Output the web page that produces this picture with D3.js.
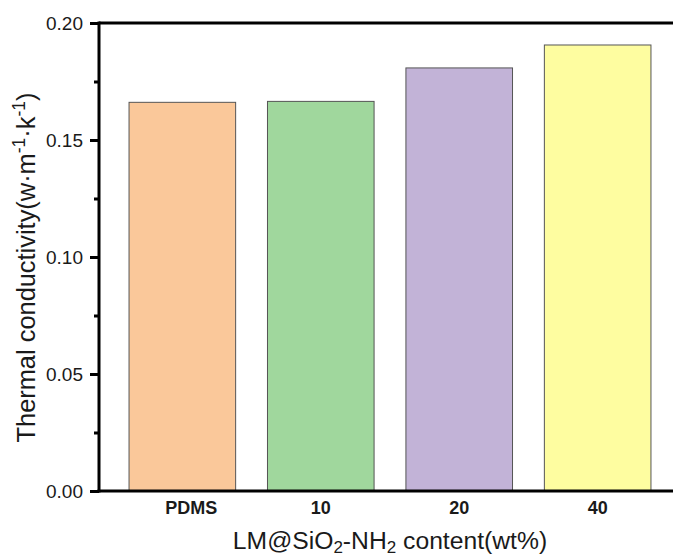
<!DOCTYPE html>
<html>
<head>
<meta charset="utf-8">
<script src="https://cdn.jsdelivr.net/npm/d3@7"></script>
<style>
body{margin:0;background:#fff;}
text{font-family:"Liberation Sans",Arial,sans-serif;}
</style>
</head>
<body>
<svg id="chart" width="673" height="558"></svg>
<script>
const categories = ["PDMS", "10", "20", "40"];
const values = [0.1661, 0.1665, 0.1808, 0.1906];
const colors = ["#FAC89A", "#A0D79D", "#C2B3D7", "#FEFDA0"];
const yTicks = [0.00, 0.05, 0.10, 0.15, 0.20];
const yMinorTicks = [0.025, 0.075, 0.125, 0.175];

const svg = d3.select("#chart");
const mLeft = 99, mRight = 681, mTop = 23, mBottom = 491;

const x = d3.scaleBand().domain(categories).range([mLeft, mRight]).paddingInner(0.23).paddingOuter(0.217);
const y = d3.scaleLinear().domain([0, 0.2]).range([mBottom, mTop]);

// bars
svg.append("g").selectAll("rect").data(categories).join("rect")
  .attr("x", d => x(d))
  .attr("y", (d, i) => y(values[i]))
  .attr("width", x.bandwidth())
  .attr("height", (d, i) => y(0) - y(values[i]))
  .attr("fill", (d, i) => colors[i])
  .attr("stroke", "#555")
  .attr("stroke-width", 1);

// top frame line
svg.append("line").attr("x1", mLeft).attr("x2", mRight).attr("y1", mTop).attr("y2", mTop)
  .attr("stroke", "#000").attr("stroke-width", 3);

// y axis
const yAxis = svg.append("g").attr("transform", `translate(${mLeft},0)`)
  .call(d3.axisLeft(y).tickValues(yTicks).tickFormat(d3.format(".2f")).tickSize(9).tickPadding(7));
yAxis.select(".domain").attr("stroke-width", 3).attr("d", `M0,${mTop - 1.5}V${mBottom + 1.5}`);
yAxis.selectAll(".tick line").attr("stroke-width", 3);
yAxis.selectAll(".tick text").attr("font-size", 19).attr("fill", "#1a1a1a")
  .attr("font-family", "'Liberation Sans', Arial, sans-serif");

const yMinor = svg.append("g").attr("transform", `translate(${mLeft},0)`)
  .call(d3.axisLeft(y).tickValues(yMinorTicks).tickFormat("").tickSize(5));
yMinor.select(".domain").remove();
yMinor.selectAll(".tick line").attr("stroke-width", 3);

// x axis
const xAxis = svg.append("g").attr("transform", `translate(0,${mBottom})`)
  .call(d3.axisBottom(x).tickSize(0).tickPadding(10));
xAxis.select(".domain").attr("stroke-width", 3).attr("d", `M${mLeft - 1.5},0H${mRight}`);
xAxis.selectAll(".tick text").attr("font-size", 18).attr("font-weight", "bold").attr("fill", "#1a1a1a")
  .attr("font-family", "'Liberation Sans', Arial, sans-serif")
  .attr("dx", (d, i) => i === 0 ? 9 : 0);

// x title
const xt = svg.append("text").attr("x", 390).attr("y", 549).attr("text-anchor", "middle")
  .attr("font-size", 24.7).attr("fill", "#1a1a1a");
xt.append("tspan").text("LM@SiO");
xt.append("tspan").attr("font-size", 17).attr("dy", 4).text("2");
xt.append("tspan").attr("dy", -4).text("-NH");
xt.append("tspan").attr("font-size", 17).attr("dy", 4).text("2");
xt.append("tspan").attr("dy", -4).text(" content(wt%)");

// y title
const yt = svg.append("text").attr("transform", "translate(35,267.5) rotate(-90)").attr("text-anchor", "middle")
  .attr("font-size", 25.4).attr("fill", "#1a1a1a");
yt.append("tspan").text("Thermal conductivity(w·m");
yt.append("tspan").attr("font-size", 17.5).attr("dy", -10).text("-1");
yt.append("tspan").attr("dy", 10).text("·k");
yt.append("tspan").attr("font-size", 17.5).attr("dy", -10).text("-1");
yt.append("tspan").attr("dy", 10).text(")");
</script>
</body>
</html>
